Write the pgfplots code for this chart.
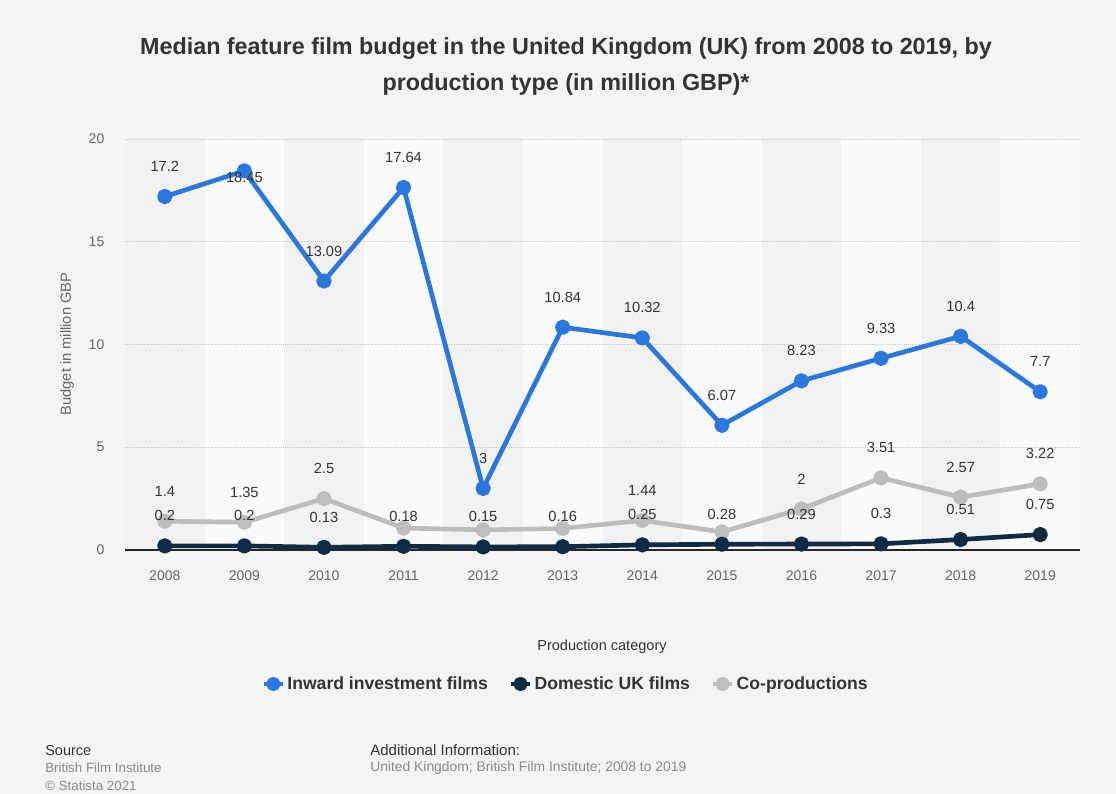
\documentclass[border=0pt]{standalone}
\usepackage{pgfplots}
\pgfplotsset{compat=1.18}
\usepackage{fontspec}
\setmainfont{Liberation Sans}
\definecolor{bgc}{HTML}{F4F4F4}
\definecolor{banddark}{HTML}{F2F2F2}
\definecolor{bandlight}{HTML}{FAFAFA}
\definecolor{inward}{HTML}{2A78DE}
\definecolor{domestic}{HTML}{0F2A43}
\definecolor{copro}{HTML}{BDBDBD}
\definecolor{txt}{HTML}{333333}
\definecolor{ticktxt}{HTML}{666666}
\definecolor{srcgray}{HTML}{8A8A8A}
\begin{document}
\begin{tikzpicture}
\fill[bgc] (0pt,0pt) rectangle (837pt,594.75pt);
\node[font=\fontsize{17.5}{20}\selectfont\bfseries, text=txt] at (424.5pt,558pt) {Median feature film budget in the United Kingdom (UK) from 2008 to 2019, by};
\node[font=\fontsize{17.5}{20}\selectfont\bfseries, text=txt] at (424.5pt,531.75pt) {production type (in million GBP)*};
\begin{axis}[
  at={(93.75pt,182.25pt)}, anchor=south west,
  scale only axis, width=716.25pt, height=308.25pt,
  xmin=-0.5, xmax=11.5, ymin=0, ymax=20,
  xtick={0,...,11},
  xticklabels={2008,2009,2010,2011,2012,2013,2014,2015,2016,2017,2018,2019},
  ytick={0,5,10,15,20},
  major tick length=0pt,
  axis line style={draw=none},
  tick label style={font=\fontsize{10.5}{12}\selectfont, text=ticktxt},
  yticklabel style={xshift=-12pt},
  xticklabel style={yshift=-12pt},
  /pgf/number format/assume math mode=true,
  every node near coord/.append style={anchor=center, yshift=22.5pt, font=\fontsize{11}{13}\selectfont, text=txt},
  legend style={at={(0.462,-0.326)}, anchor=center, draw=none, fill=none, legend columns=-1,
    font=\fontsize{13.2}{15}\selectfont\bfseries, text=txt,
    /tikz/every even column/.append style={column sep=14pt}},
  legend image code/.code={\draw[line width=3pt] (0pt,0pt) -- (14pt,0pt); \fill (7pt,0pt) circle (3.6pt);},
  reverse legend,
]
\pgfplotsinvokeforeach{0,2,4,6,8,10}{\fill[banddark] (axis cs:#1-0.5,0) rectangle (axis cs:#1+0.5,20);}
\pgfplotsinvokeforeach{1,3,5,7,9,11}{\fill[bandlight] (axis cs:#1-0.5,0) rectangle (axis cs:#1+0.5,20);}
\pgfplotsinvokeforeach{5,10,15,20}{\draw[densely dotted, color=black!22, line width=0.6pt] (axis cs:-0.5,#1) -- (axis cs:11.5,#1);}
\draw[line width=1pt, color=black!85] (axis cs:-0.5,0) -- (axis cs:11.5,0);
% Co-productions
\addplot[copro, line width=3.5pt, mark=*, mark size=4pt, line join=round] coordinates {
 (0,1.4) (1,1.35) (2,2.5) (3,1.07) (4,0.98) (5,1.05) (6,1.44) (7,0.88) (8,2) (9,3.51) (10,2.57) (11,3.22)};
\addlegendentry{Co-productions}
% Domestic
\addplot[domestic, line width=3.5pt, mark=*, mark size=4pt, line join=round] coordinates {
 (0,0.2) (1,0.2) (2,0.13) (3,0.18) (4,0.15) (5,0.16) (6,0.25) (7,0.28) (8,0.29) (9,0.3) (10,0.51) (11,0.75)};
\addlegendentry{Domestic UK films}
% Inward
\addplot[inward, line width=3.5pt, mark=*, mark size=4pt, line join=round] coordinates {
 (0,17.2) (1,18.45) (2,13.09) (3,17.64) (4,3) (5,10.84) (6,10.32) (7,6.07) (8,8.23) (9,9.33) (10,10.4) (11,7.7)};
\addlegendentry{Inward investment films}
% labels
\addplot[draw=none, mark=none, forget plot, point meta=explicit symbolic, nodes near coords] coordinates {
 (0,1.4) [1.4] (1,1.35) [1.35] (2,2.5) [2.5] (6,1.44) [1.44] (8,2) [2] (9,3.51) [3.51] (10,2.57) [2.57] (11,3.22) [3.22]};
\addplot[draw=none, mark=none, forget plot, point meta=explicit symbolic, nodes near coords] coordinates {
 (0,0.2) [0.2] (1,0.2) [0.2] (2,0.13) [0.13] (3,0.18) [0.18] (4,0.15) [0.15] (5,0.16) [0.16] (6,0.25) [0.25] (7,0.28) [0.28] (8,0.29) [0.29] (9,0.3) [0.3] (10,0.51) [0.51] (11,0.75) [0.75]};
\addplot[draw=none, mark=none, forget plot, point meta=explicit symbolic, nodes near coords] coordinates {
 (0,17.2) [17.2] (2,13.09) [13.09] (3,17.64) [17.64] (4,3) [3] (5,10.84) [10.84] (6,10.32) [10.32] (7,6.07) [6.07] (8,8.23) [8.23] (9,9.33) [9.33] (10,10.4) [10.4] (11,7.7) [7.7]};
\addplot[draw=none, mark=none, forget plot, point meta=explicit symbolic, nodes near coords,
  every node near coord/.append style={yshift=-27.5pt}] coordinates {(1,18.45) [18.45]};
\end{axis}
\node[rotate=90, font=\fontsize{11}{13}\selectfont, text=ticktxt] at (50.25pt,336.75pt) {Budget in million GBP};
\node[font=\fontsize{10.9}{13}\selectfont, text=txt] at (451.5pt,109.5pt) {Production category};
\node[anchor=west, font=\fontsize{10.9}{13}\selectfont, text=txt, inner sep=0pt] at (33.75pt,32.25pt) {Source};
\node[anchor=west, font=\fontsize{10}{12}\selectfont, text=srcgray, inner sep=0pt] at (33.75pt,18.75pt) {British Film Institute};
\node[anchor=west, font=\fontsize{10}{12}\selectfont, text=srcgray, inner sep=0pt] at (33.75pt,5.25pt) {© Statista 2021};
\node[anchor=west, font=\fontsize{11.3}{13}\selectfont, text=txt, inner sep=0pt] at (277.5pt,32.25pt) {Additional Information:};
\node[anchor=west, font=\fontsize{10.4}{12}\selectfont, text=srcgray, inner sep=0pt] at (277.5pt,18.75pt) {United Kingdom; British Film Institute; 2008 to 2019};
\end{tikzpicture}
\end{document}
